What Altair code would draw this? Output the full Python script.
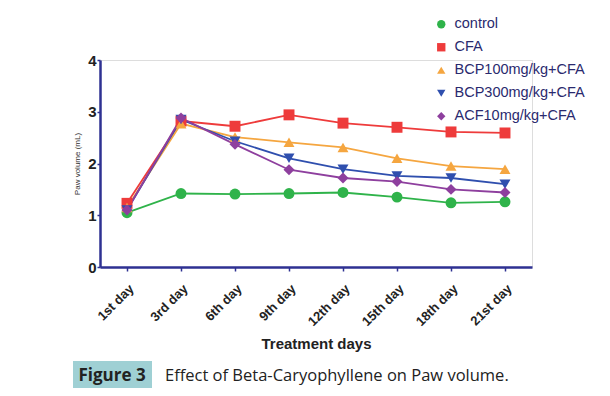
import altair as alt
import pandas as pd

days = ["1st day", "3rd day", "6th day", "9th day", "12th day", "15th day", "18th day", "21st day"]
groups = ["control", "CFA", "BCP100mg/kg+CFA", "BCP300mg/kg+CFA", "ACF10mg/kg+CFA"]
control = [1.05, 1.42, 1.41, 1.42, 1.44, 1.35, 1.24, 1.26]
cfa = [1.23, 2.82, 2.72, 2.94, 2.78, 2.70, 2.61, 2.59]
bcp100 = [1.15, 2.77, 2.51, 2.41, 2.31, 2.10, 1.95, 1.89]
bcp300 = [1.10, 2.85, 2.43, 2.10, 1.89, 1.76, 1.72, 1.60]
acf10 = [1.10, 2.88, 2.37, 1.88, 1.72, 1.65, 1.50, 1.44]
colors = ["#2fb34a", "#ee3b3b", "#f5a640", "#2f4fae", "#8e3f9e"]
shapes = ["circle", "square", "triangle-up", "triangle-down", "diamond"]

rows = []
for g, vals in zip(groups, [control, cfa, bcp100, bcp300, acf10]):
    for d, v in zip(days, vals):
        rows.append({"day": d, "group": g, "value": v})
df = pd.DataFrame(rows)

navy = "#2e3192"

x = alt.X("day:N", sort=days, title="Treatment days",
          scale=alt.Scale(type="point", padding=0.5),
          axis=alt.Axis(labelAngle=-45, labelFontWeight="bold", labelFontSize=13,
                        labelColor="#222", labelFont="Liberation Sans",
                        titleFont="Liberation Sans", titleFontSize=15, titleFontWeight="bold",
                        titleColor="#222", titlePadding=8,
                        domainColor=navy, domainWidth=2.5, tickColor=navy, tickWidth=1.5,
                        tickSize=4, labelPadding=11, labelAlign="right", labelBaseline="top"))
y = alt.Y("value:Q", title="Paw volume (mL)",
          scale=alt.Scale(domain=[0, 4], nice=False),
          axis=alt.Axis(values=[0, 1, 2, 3, 4], labelFontWeight="bold", labelFontSize=15,
                        labelColor="#222", labelFont="Liberation Sans",
                        titleFont="Liberation Sans", titleFontSize=8, titleFontWeight="normal",
                        titleColor="#333", titlePadding=6, grid=False,
                        domainColor=navy, domainWidth=2.5, tickColor=navy, tickWidth=1.5,
                        tickSize=3, labelPadding=1))
leg = alt.Legend(title=None, orient="none", legendX=334, legendY=-43,
                 labelFont="Liberation Sans", labelFontSize=14.5,
                 labelColor="#2a2a6e", symbolSize=70, rowPadding=8,
                 labelOffset=6, symbolStrokeWidth=0)
color = alt.Color("group:N", scale=alt.Scale(domain=groups, range=colors), legend=leg)
shape = alt.Shape("group:N", scale=alt.Scale(domain=groups, range=shapes), legend=leg)

lines = alt.Chart(df).mark_line(strokeWidth=1.8).encode(
    x=x, y=y, color=color, detail="group:N")
points = alt.Chart(df).mark_point(filled=True, size=120, opacity=1).encode(
    x=x, y=y, color=color, shape=shape)

caption_df = pd.DataFrame({"t": ["Figure 3"]})
box = alt.Chart(caption_df).mark_rect(color="#9fd0d4").encode(
    x=alt.value(-27), x2=alt.value(52), y=alt.value(301), y2=alt.value(330))
fig = alt.Chart(caption_df).mark_text(font="Open Sans", fontSize=17, fontWeight="bold",
                                      color="#222", align="center", baseline="middle").encode(
    x=alt.value(12), y=alt.value(316), text="t:N")
cap2 = alt.Chart(pd.DataFrame({"t": ["Effect of Beta-Caryophyllene on Paw volume."]})).mark_text(
    font="Open Sans", fontSize=16.5, color="#222", align="left", baseline="middle").encode(
    x=alt.value(65), y=alt.value(316), text="t:N")

chart = alt.layer(lines, points, box, fig, cap2).properties(
    width=432, height=207,
    autosize=alt.AutoSizeParams(type="none"),
    padding={"left": 92, "top": 52, "right": 70, "bottom": 121}
).configure_view(stroke=None).configure(background="white")

chart.save("out.html", embed_options={"renderer": "svg", "actions": False})
